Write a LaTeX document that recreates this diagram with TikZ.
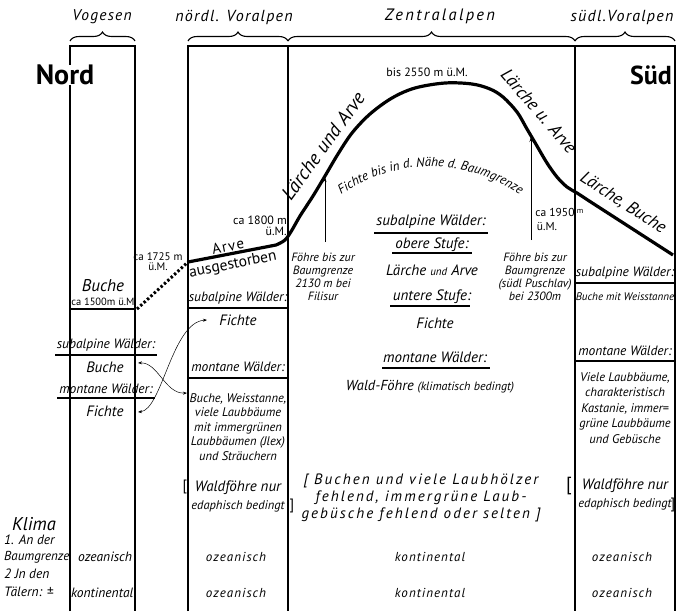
\documentclass[tikz,border=0pt]{standalone}
\usepackage{fontspec}
\setmainfont{PT Sans}
\newfontfamily\spaced[LetterSpace=8]{PT Sans}
\newfontfamily\wider[LetterSpace=14]{PT Sans}
\usetikzlibrary{decorations.pathreplacing,decorations.text,arrows.meta}
\newcommand{\fs}[1]{\fontsize{#1}{#1}\selectfont}
\begin{document}
\begin{tikzpicture}[x=1pt,y=-1pt,
  col/.style={line width=1.1pt},
  uline/.style={line width=1.3pt},
  heavy/.style={line width=3.2pt},
  it/.style={font=\itshape\fs{12.5}, inner sep=0pt},
  hd/.style={font=\itshape\fs{13.5}, inner sep=0pt},
  zhd/.style={font=\itshape\fs{15}, inner sep=0pt},
  tl/.style={font=\spaced\itshape\fs{16}, inner sep=0pt},
  upsm/.style={font=\fs{11}, inner sep=0pt},
  bodyt/.style={font=\itshape\fs{12}, inner sep=0pt, align=center},
  clim/.style={font=\spaced\itshape\fs{13}, inner sep=0pt},
  arr/.style={line width=0.5pt, {Stealth[length=4pt,width=3pt]}-{Stealth[length=4pt,width=3pt]}},
  sarr/.style={line width=0.6pt, -{Stealth[length=5pt,width=3pt]}},
  br/.style={decorate, decoration={brace, amplitude=9pt}, line width=1.1pt}
]
\useasboundingbox (0,0) rectangle (677,611);

% columns
\draw[col] (70,611) -- (70,46) -- (135,46) -- (135,611);
\draw[col] (188,611) -- (188,46) -- (675,46) -- (675,611);
\draw[col] (288,46) -- (288,611);
\draw[col] (575,46) -- (575,611);

% braces and titles
\draw[br] (70,41) -- (135,41);
\draw[br] (188,41) -- (288,41);
\draw[br] (288,41) -- (575,41);
\draw[br] (575,41) -- (675,41);
\node[tl, font=\spaced\itshape\fs{15.5}] (tvog) at (102,17) {Vogesen};
\node[tl] (tnvor) at (234,17) {nördl. Voralpen};
\node[tl, font=\wider\itshape\fs{16.5}] (tzen) at (440,16) {Zentralalpen};
\node[tl] (tsvor) at (622,17) {südl.Voralpen};

\node[font=\bfseries\fs{28}, inner sep=0pt, fill=white] (nord) at (65,75) {Nord};
\node[font=\bfseries\fs{26}, inner sep=0pt] (sued) at (651,75) {Süd};

% treeline curve
\coordinate (c0) at (188,262);
\coordinate (c1) at (276,245);
\coordinate (c3) at (673,255);
\draw[heavy] (c0) -- (c1) -- plot[smooth, tension=0.55] coordinates {(276,245) (285,240) (292,230) (300,216) (313,196) (325,176) (338,154) (352,133) (370,114) (392,98) (415,88) (445,83) (472,84) (490,89) (503,97) (517,112) (527,129) (537,146) (547,163) (557,177) (567,187) (577,193) (590,201.5)} -- (c3);

% Vogesen
\coordinate (v0) at (70,309);
\coordinate (v1) at (137,309);
\draw[line width=2.6pt] (v0) -- (135,309);
\draw[line width=3pt, dash pattern=on 2.4pt off 2.2pt] (v1) -- (c0);
\node[font=\itshape\fs{17}, inner sep=0pt] (vbuche) at (103,286) {Buche};
\node[upsm, font=\fs{10.5}] (v1500) at (104,302) {ca 1500m ü.M.};
\node[upsm, align=center] (v1725) at (158,262) {ca 1725 m\\[-1pt]ü.M.};
\node[hd] (vsub) at (106,345) {subalpine Wälder:};
\draw[uline] (55,355) -- (157,355);
\node[it, font=\itshape\fs{15}] (vbu) at (105,367) {Buche};
\node[hd] (vmon) at (106,389) {montane Wälder:};
\draw[uline] (57,398) -- (155,398);
\node[it, font=\itshape\fs{15}] (vfi) at (105,411) {Fichte};

% nördl. Voralpen
\node[upsm, font=\fs{12}, align=right, anchor=east] (n1800) at (287,226) {ca 1800 m\\[-1pt]ü.M.};
\node[font=\spaced\fs{15}, inner sep=0pt, rotate=11] (narve) at (228,246) {Arve};
\node[font=\fs{15.5}, inner sep=0pt, rotate=11] (naus) at (233,265) {ausgestorben};
\node[hd] (nsub) at (238,298) {subalpine Wälder:};
\draw[uline] (188,308) -- (288,308);
\node[it, font=\itshape\fs{15}] (nfi) at (238,320) {Fichte};
\node[hd] (nmon) at (238,367) {montane Wälder:};
\draw[uline] (188,378) -- (288,378);
\node[bodyt, font=\itshape\fs{12.5}] (nbu) at (238,427) {Buche, Weisstanne,\\[2pt]viele Laubbäume\\[2pt]mit immergrünen\\[2pt]Laubbäumen (Jlex)\\[2pt]und Sträuchern};
\node[bodyt, font=\itshape\fs{15}] (nwald) at (238,496) {Waldföhre nur\\[3pt]{\fs{12.5}edaphisch bedingt}};
\node[inner sep=0pt, font=\fs{15}] (nb1) at (185,487) {[};
\node[inner sep=0pt, font=\fs{15}] (nb2) at (292,506) {]};

% connectors between columns
\coordinate (a1) at (138,363);
\coordinate (a2) at (187,393);
\coordinate (b1) at (138,412);
\coordinate (b2) at (207,320);
\draw[arr] (a1) .. controls (158,362) and (165,394) .. (a2);
\draw[arr] (b1) .. controls (162,410) and (172,322) .. (b2);

% Zentralalpen
\node[upsm, font=\fs{12}] (z2550) at (427,72) {bis 2550 m ü.M.};
\node[font=\itshape\fs{19.5}, inner sep=0pt, rotate=54] (zla) at (323,146) {Lärche und Arve};
\node[font=\itshape\fs{18}, inner sep=0pt, rotate=-49] (zlua) at (539,111) {Lärche u. Arve};
\path[decorate, decoration={text along path, text align=center,
  text={|\itshape\fs{13}|Fichte bis in d. Nähe d. Baumgrenze}}]
  (338,197) .. controls (393.7,156.5) and (467.3,156.5) .. (523,197);
\coordinate (f1) at (325,242);
\coordinate (f2) at (325,177);
\draw[sarr] (f1) -- (f2);
\node[bodyt] (zf1) at (323,277) {Föhre bis zur\\[1pt]Baumgrenze\\[1pt]2130 m bei\\[1pt]Filisur};
\coordinate (g1) at (531,240);
\coordinate (g2) at (531,137);
\draw[sarr] (g1) -- (g2);
\node[upsm, font=\fs{11.5}] (z1950) at (555,212) {ca 1950};
\node[upsm, font=\fs{8}] (z1950m) at (580,211) {m};
\node[upsm, font=\fs{11.5}] (z1950u) at (547,227) {ü.M.};
\node[bodyt] (zf2) at (535,277) {Föhre bis zur\\[1pt]Baumgrenze\\[1pt](südl Puschlav)\\[1pt]bei 2300m};
\node[zhd] (zsub) at (431,222) {subalpine Wälder:};
\draw[uline] (374,233) -- (488,233);
\node[zhd] (zob) at (432,245) {obere Stufe:};
\draw[uline] (392,253) -- (472,253);
\node[zhd] (zla2) at (432,270) {Lärche {\fs{11}und} Arve};
\node[zhd] (zun) at (432,297) {untere Stufe:};
\draw[uline] (390,306) -- (470,306);
\node[zhd] (zfi) at (435,323) {Fichte};
\node[zhd] (zmon) at (435,357) {montane Wälder:};
\draw[uline] (382,368) -- (490,368);
\node[zhd, font=\itshape\fs{14.5}] (zwf) at (430,387) {Wald-Föhre {\fs{12}(klimatisch bedingt)}};
\node[font=\wider\itshape\fs{15}, inner sep=0pt, align=center] (zbu) at (421,498) {[ Buchen und viele Laubhölzer\\[2pt]fehlend, immergrüne Laub-\\[2pt]gebüsche fehlend oder selten ]};

% südl. Voralpen
\node[font=\itshape\fs{17.5}, inner sep=0pt, rotate=-33] (sle) at (623,203) {Lärche, Buche};
\node[hd] (ssub) at (625,273) {subalpine Wälder:};
\draw[uline] (575,283) -- (675,283);
\node[it, font=\itshape\fs{11}] (sbu) at (625,297) {Buche mit Weisstanne};
\node[hd] (smon) at (625,351) {montane Wälder:};
\draw[uline] (575,361) -- (675,361);
\node[bodyt, font=\itshape\fs{12.5}] (sviel) at (625,408) {Viele Laubbäume,\\[3pt]charakteristisch\\[3pt]Kastanie, immer=\\[3pt]grüne Laubbäume\\[3pt]und Gebüsche};
\node[bodyt, font=\itshape\fs{15}] (swald) at (625,494) {Waldföhre nur\\[3pt]{\fs{12.5}edaphisch bedingt}};
\node[inner sep=0pt, font=\fs{19}] (sb1) at (569,486) {[};
\node[inner sep=0pt, font=\fs{15}] (sb2) at (673,505) {]};

% Klima
\node[font=\itshape\fs{18.5}, inner sep=0pt, anchor=west] (kl) at (12,524) {Klima};
\node[it, font=\itshape\fs{13.5}, anchor=west] (k1) at (4,540) {1. An der};
\node[it, font=\itshape\fs{13}, anchor=west] (k2) at (4,557) {Baumgrenze};
\node[it, font=\itshape\fs{13.5}, anchor=west] (k3) at (4,574) {2 Jn den};
\node[it, font=\itshape\fs{13.5}, anchor=west] (k4) at (4,592) {Tälern: ±};
\node[it, font=\itshape\fs{13.5}] (kv1) at (105,557) {ozeanisch};
\node[it, font=\itshape\fs{13.5}, anchor=west] (kv2) at (71,593) {kontinental};
\node[clim] (kn1) at (236,557) {ozeanisch};
\node[clim] (kn2) at (236,593) {ozeanisch};
\node[clim] (kz1) at (430,557) {kontinental};
\node[clim] (kz2) at (430,593) {kontinental};
\node[clim] (ks1) at (622,557) {ozeanisch};
\node[clim] (ks2) at (622,593) {ozeanisch};
\end{tikzpicture}
\end{document}
